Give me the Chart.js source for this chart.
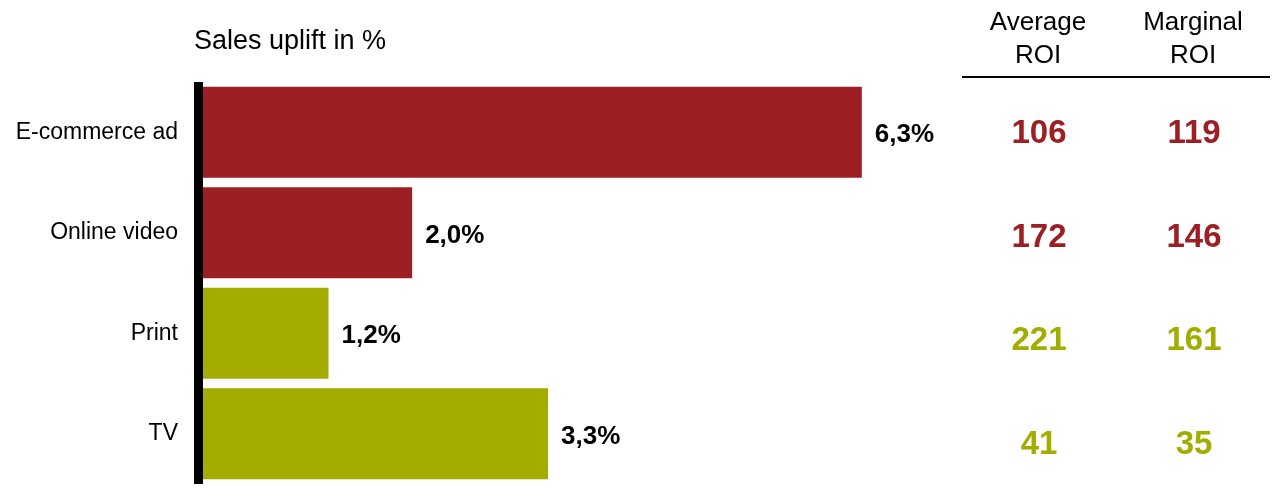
<!DOCTYPE html>
<html>
<head>
<meta charset="utf-8">
<script src="https://cdn.jsdelivr.net/npm/chart.js@4"></script>
<style>
  html, body { margin: 0; padding: 0; background: #fff; }
  canvas { display: block; }
</style>
</head>
<body>
<canvas id="myChart" width="1276" height="501"></canvas>
<script>
// Data

var channels = ['E-commerce ad', 'Online video', 'Print', 'TV']
var uplift = [6.3, 2.0, 1.2, 3.3]
var averageRoi = [106, 172, 221, 41]
var marginalRoi = [119, 146, 161, 35]

// Styles

var red = '#9C1F24'
var green = '#A3AD00'
var rowColors = [red, red, green, green]
var font = '"Liberation Sans", Arial, sans-serif'

function formatPercent(v) {
    return v.toFixed(1).replace('.', ',') + '%'
}

// Plugins

var axisLine = {
    id: 'axisLine',
    afterDatasetsDraw: chart => {
        var ctx = chart.ctx, a = chart.chartArea
        ctx.save()
        ctx.fillStyle = '#000'
        ctx.fillRect(a.left - 9, a.top, 9, a.bottom - a.top)
        ctx.restore()
    }
}

var texts = {
    id: 'texts',
    afterDraw: chart => {
        var ctx = chart.ctx
        var x = chart.scales.x, y = chart.scales.y
        ctx.save()
        ctx.textBaseline = 'middle'

        // title
        ctx.fillStyle = '#000'
        ctx.textAlign = 'left'
        ctx.font = '27px ' + font
        ctx.fillText('Sales uplift in %', 194, 42)

        // column headers
        ctx.textAlign = 'center'
        ctx.font = '26px ' + font
        ctx.fillText('Average', 1038, 23)
        ctx.fillText('ROI', 1038, 56)
        ctx.fillText('Marginal', 1193, 23)
        ctx.fillText('ROI', 1193, 56)
        ctx.fillRect(962, 76, 308, 2)

        // values at bar ends
        ctx.textAlign = 'left'
        ctx.font = 'bold 26px ' + font
        uplift.forEach((v, i) => {
            ctx.fillText(formatPercent(v), x.getPixelForValue(v) + 13, y.getPixelForValue(i) + 3)
        })

        // ROI columns
        ctx.textAlign = 'center'
        ctx.font = 'bold 33px ' + font
        channels.forEach((c, i) => {
            var yy = y.getPixelForValue(i) + 2 + i * 3
            ctx.fillStyle = rowColors[i]
            ctx.fillText(String(averageRoi[i]), 1039, yy)
            ctx.fillText(String(marginalRoi[i]), 1194, yy)
        })
        ctx.restore()
    }
}

// Drawing

var ctx = document.getElementById('myChart').getContext('2d')

var myChart = new Chart(ctx, {
    type: 'bar',
    data: {
        labels: channels,
        datasets: [{
            data: uplift,
            backgroundColor: rowColors,
            borderWidth: 0,
            categoryPercentage: 1,
            barPercentage: 0.905,
        }]
    },
    options: {
        indexAxis: 'y',
        responsive: false,
        animation: false,
        layout: { padding: { left: 0, top: 82, bottom: 17, right: 341 } },
        plugins: {
            legend: { display: false },
            tooltip: { enabled: false },
        },
        scales: {
            x: { display: false, min: 0, max: 7 },
            y: {
                grid: { display: false, drawTicks: false },
                border: { display: false },
                ticks: {
                    padding: 25,
                    color: '#000',
                    font: { family: font, size: 23 },
                },
                afterFit: s => {
                    s.width = 203
                    s.paddingTop = 0
                    s.paddingBottom = 0
                },
            }
        }
    },
    plugins: [axisLine, texts]
})
</script>
</body>
</html>
